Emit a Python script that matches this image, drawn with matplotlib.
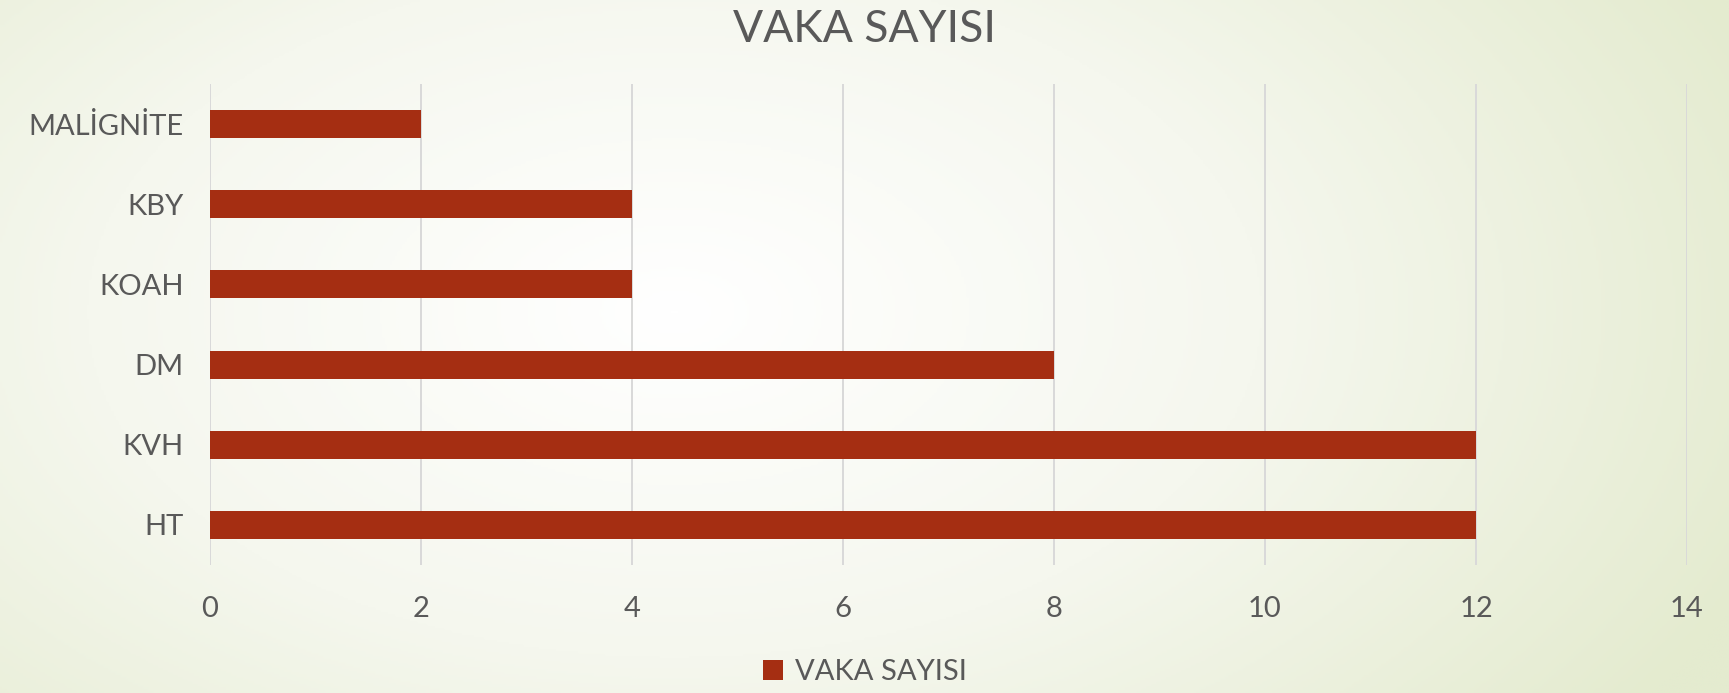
import matplotlib.pyplot as plt
import numpy as np
from matplotlib.colors import LinearSegmentedColormap

# データ
categories = ["HT", "KVH", "DM", "KOAH", "KBY", "MALİGNİTE"]
vaka_sayisi = [12, 12, 8, 4, 4, 2]
x_ticks = [0, 2, 4, 6, 8, 10, 12, 14]

plt.rcParams['font.family'] = ['Lato', 'DejaVu Sans']
text_color = "#595959"
bar_color = "#A52E12"

fig = plt.figure(figsize=(17.29, 6.93), dpi=100)

# 背景のグラデーション
bg = fig.add_axes([0, 0, 1, 1], zorder=-10)
yy, xx = np.mgrid[0:1:300j, 0:1:700j]
r = np.sqrt(((xx - 0.39) / 0.68) ** 2 + ((yy - 0.45) / 1.0) ** 2)
cmap = LinearSegmentedColormap.from_list("bg", ["#ffffff", "#f5f7ee", "#e4ebcf"])
bg.imshow(np.clip(r, 0, 1), cmap=cmap, aspect="auto", extent=[0, 1, 1, 0], vmin=0, vmax=1)
bg.axis("off")

ax = fig.add_axes([210 / 1729, 1 - 565 / 693, (1687 - 210) / 1729, (565 - 84) / 693])
ax.patch.set_alpha(0)
ax.barh(categories, vaka_sayisi, height=0.35, color=bar_color, label="VAKA SAYISI", zorder=3)

ax.set_xlim(0, 14)
ax.set_ylim(-0.5, len(categories) - 0.5)
ax.set_xticks(x_ticks)
ax.grid(axis="x", color="#d9d9d9", linewidth=1.4, zorder=0)
for s in ax.spines.values():
    s.set_visible(False)
ax.tick_params(axis="both", length=0, labelsize=21, colors=text_color)
ax.tick_params(axis="x", pad=22)
ax.tick_params(axis="y", pad=19)

fig.text(0.5, 1 - 30 / 693, "VAKA SAYISI", ha="center", va="center", fontsize=32, color=text_color)

leg = fig.legend(loc="center", bbox_to_anchor=(0.5, 1 - 672 / 693), frameon=False,
                 fontsize=21, handlelength=0.7, handleheight=0.7, handletextpad=0.4)
for t in leg.get_texts():
    t.set_color(text_color)

fig.savefig("out.png", dpi=100)
